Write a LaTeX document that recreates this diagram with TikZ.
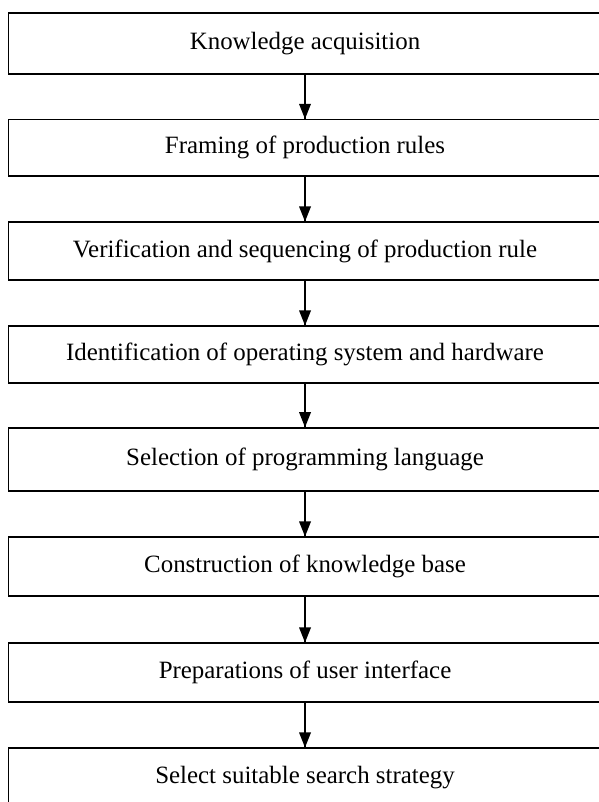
\documentclass[tikz,border=0pt]{standalone}
\usepackage{fontspec}
\setmainfont{Liberation Serif}
\usepackage{tikz}
\usepackage{amsmath}

\begin{document}
\begin{tikzpicture}[scale=0.2]
  \tikzstyle{every node}+=[inner sep=0pt]
  \tikzset{stage/.style={draw=black, line width=1.3pt, minimum width=595pt, font=\fontsize{25}{30}\selectfont}}
  \useasboundingbox (0,0) rectangle (105.48,-141.46);
  \node [stage, minimum height=61pt] (acq) at (53.80,-7.673) {Knowledge acquisition};
  \node [stage, minimum height=56.5pt] (rules) at (53.80,-26.061) {Framing of production rules};
  \node [stage, minimum height=58pt] (verify) at (53.80,-44.274) {Verification and sequencing of production rule};
  \node [stage, minimum height=57pt] (ident) at (53.80,-62.530) {Identification of operating system and hardware};
  \node [stage, minimum height=63.3pt] (lang) at (53.80,-81.033) {Selection of programming language};
  \node [stage, minimum height=59pt] (kbase) at (53.80,-99.924) {Construction of knowledge base};
  \node [stage, minimum height=59pt] (ui) at (53.80,-118.622) {Preparations of user interface};
  \node [stage, minimum height=60pt] (search) at (53.80,-137.231) {Select suitable search strategy};
  \draw [black, line width=1.3pt] (acq.south) -- (rules.north);
  \fill [black] (rules.north) -- ++(-1.06,2.65) -- ++(2.12,0);
  \draw [black, line width=1.3pt] (rules.south) -- (verify.north);
  \fill [black] (verify.north) -- ++(-1.06,2.65) -- ++(2.12,0);
  \draw [black, line width=1.3pt] (verify.south) -- (ident.north);
  \fill [black] (ident.north) -- ++(-1.06,2.65) -- ++(2.12,0);
  \draw [black, line width=1.3pt] (ident.south) -- (lang.north);
  \fill [black] (lang.north) -- ++(-1.06,2.65) -- ++(2.12,0);
  \draw [black, line width=1.3pt] (lang.south) -- (kbase.north);
  \fill [black] (kbase.north) -- ++(-1.06,2.65) -- ++(2.12,0);
  \draw [black, line width=1.3pt] (kbase.south) -- (ui.north);
  \fill [black] (ui.north) -- ++(-1.06,2.65) -- ++(2.12,0);
  \draw [black, line width=1.3pt] (ui.south) -- (search.north);
  \fill [black] (search.north) -- ++(-1.06,2.65) -- ++(2.12,0);
\end{tikzpicture}
\end{document}
